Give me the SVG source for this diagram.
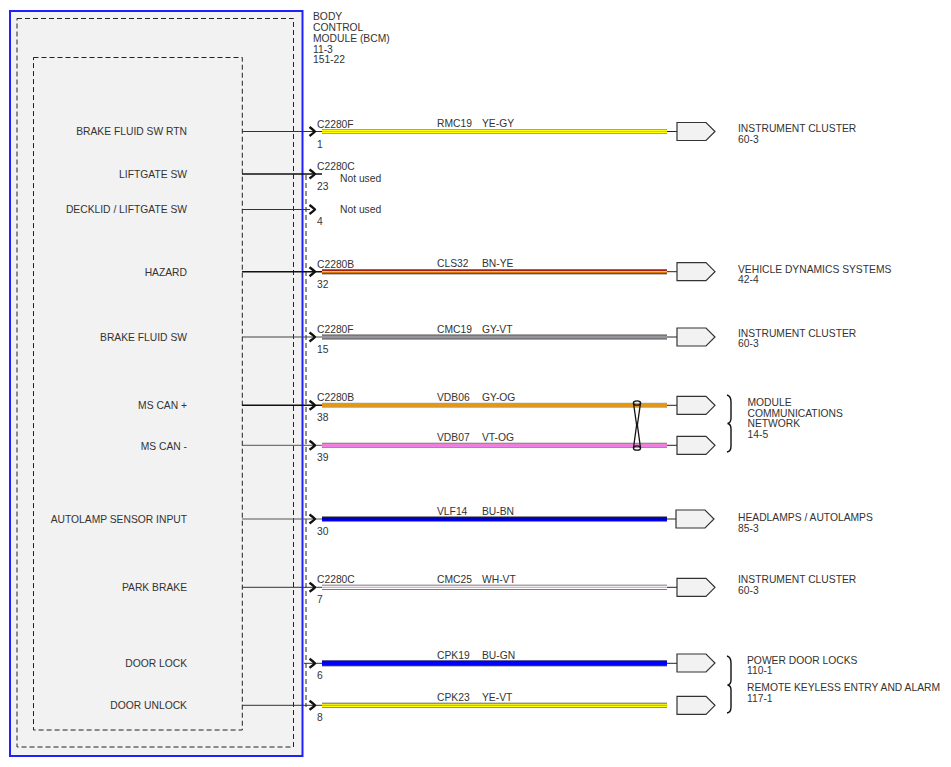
<svg xmlns="http://www.w3.org/2000/svg" width="951" height="767" viewBox="0 0 951 767">
<style>
text{font-family:"Liberation Sans",Arial,sans-serif;font-size:10.3px;fill:#333}
.r{text-anchor:end}
.dash{fill:none;stroke:#222;stroke-width:1;stroke-dasharray:5,3}
.chev{fill:none;stroke:#111;stroke-width:2.4;stroke-linejoin:round}
.stub{stroke:#222;stroke-width:1}
.dest{fill:#f2f2f2;stroke:#333;stroke-width:1.2}
.brace{fill:none;stroke:#111;stroke-width:1.4}
</style>
<rect width="951" height="767" fill="#ffffff"/>
<g id="bcm">
<rect x="10" y="11" width="292.5" height="745" fill="#f2f2f2" stroke="#2020ff" stroke-width="2"/>
<rect x="17" y="18.5" width="276.5" height="728.5" class="dash"/>
<rect x="33.5" y="57.5" width="208.8" height="672.5" class="dash"/>
<line x1="306" y1="175" x2="306" y2="707" class="dash" stroke-dasharray="4,3"/>
<text x="313" y="20">BODY</text>
<text x="313" y="30.8">CONTROL</text>
<text x="313" y="41.6">MODULE (BCM)</text>
<text x="313" y="52.6">11-3</text>
<text x="313" y="63.4">151-22</text>
<text class="r" x="187" y="135">BRAKE FLUID SW RTN</text>
<text class="r" x="187" y="177.5">LIFTGATE SW</text>
<text class="r" x="187" y="213">DECKLID / LIFTGATE SW</text>
<text class="r" x="187" y="275.5">HAZARD</text>
<text class="r" x="187" y="340.5">BRAKE FLUID SW</text>
<text class="r" x="187" y="409">MS CAN +</text>
<text class="r" x="187" y="449.5">MS CAN -</text>
<text class="r" x="187" y="523">AUTOLAMP SENSOR INPUT</text>
<text class="r" x="187" y="591">PARK BRAKE</text>
<text class="r" x="187" y="666.5">DOOR LOCK</text>
<text class="r" x="187" y="709">DOOR UNLOCK</text>
</g>
<g id="pins">
<line x1="242" y1="131.5" x2="322" y2="131.5" stroke="#333" stroke-width="1"/>
<line x1="242" y1="174" x2="322" y2="174" stroke="#111" stroke-width="1.6"/>
<line x1="242" y1="209.5" x2="310" y2="209.5" stroke="#333" stroke-width="1"/>
<line x1="242" y1="271.7" x2="322" y2="271.7" stroke="#111" stroke-width="1.5"/>
<line x1="242" y1="337" x2="322" y2="337" stroke="#444" stroke-width="1"/>
<line x1="242" y1="405.3" x2="322" y2="405.3" stroke="#111" stroke-width="1.5"/>
<line x1="242" y1="445.3" x2="322" y2="445.3" stroke="#555" stroke-width="1"/>
<line x1="242" y1="519" x2="322" y2="519" stroke="#555" stroke-width="1"/>
<line x1="242" y1="587.3" x2="322" y2="587.3" stroke="#333" stroke-width="1"/>
<line x1="304" y1="663.3" x2="322" y2="663.3" stroke="#333" stroke-width="1"/>
<line x1="242" y1="705.3" x2="322" y2="705.3" stroke="#333" stroke-width="1"/>
<path class="chev" d="M309.5,127 Q313,129.5 315,131.5 Q313,133.5 309.5,136"/>
<path class="chev" d="M309.5,169.5 Q313,172 315,174 Q313,176 309.5,178.5"/>
<path class="chev" d="M309.5,205 Q313,207.5 315,209.5 Q313,211.5 309.5,214"/>
<path class="chev" d="M309.5,267.2 Q313,269.7 315,271.7 Q313,273.7 309.5,276.2"/>
<path class="chev" d="M309.5,332.5 Q313,335 315,337 Q313,339 309.5,341.5"/>
<path class="chev" d="M309.5,400.8 Q313,403.3 315,405.3 Q313,407.3 309.5,409.8"/>
<path class="chev" d="M309.5,440.8 Q313,443.3 315,445.3 Q313,447.3 309.5,449.8"/>
<path class="chev" d="M309.5,514.5 Q313,517 315,519 Q313,521 309.5,523.5"/>
<path class="chev" d="M309.5,582.8 Q313,585.3 315,587.3 Q313,589.3 309.5,591.8"/>
<path class="chev" d="M309.5,658.8 Q313,661.3 315,663.3 Q313,665.3 309.5,667.8"/>
<path class="chev" d="M309.5,700.8 Q313,703.3 315,705.3 Q313,707.3 309.5,709.8"/>
<text x="317" y="128">C2280F</text><text x="317" y="148">1</text>
<text x="317" y="169.5">C2280C</text><text x="317" y="190">23</text>
<text x="340" y="181.5">Not used</text>
<text x="317" y="225">4</text>
<text x="340" y="212.5">Not used</text>
<text x="317" y="267.5">C2280B</text><text x="317" y="288">32</text>
<text x="317" y="332.5">C2280F</text><text x="317" y="353">15</text>
<text x="317" y="400.5">C2280B</text><text x="317" y="421">38</text>
<text x="317" y="461">39</text>
<text x="317" y="535">30</text>
<text x="317" y="583">C2280C</text><text x="317" y="603">7</text>
<text x="317" y="679">6</text>
<text x="317" y="721">8</text>
</g>
<g id="connectors">
<g id="w-rmc19">
<line x1="322" y1="131.5" x2="667" y2="131.5" stroke="#8c8c8c" stroke-width="5"/>
<line x1="322" y1="131.5" x2="667" y2="131.5" stroke="#ffff00" stroke-width="3.6"/>
<line x1="322" y1="131.5" x2="667" y2="131.5" stroke="#b4b49a" stroke-width="0.8"/>
</g>
<g id="w-cls32">
<line x1="322" y1="271.7" x2="667" y2="271.7" stroke="#808080" stroke-width="5.5"/>
<line x1="322" y1="271.7" x2="667" y2="271.7" stroke="#a82010" stroke-width="4"/>
<line x1="322" y1="271.7" x2="667" y2="271.7" stroke="#ffd000" stroke-width="1.4"/>
</g>
<g id="w-cmc19">
<line x1="322" y1="337" x2="667" y2="337" stroke="#505050" stroke-width="5"/>
<line x1="322" y1="337" x2="667" y2="337" stroke="#858585" stroke-width="3.5"/>
<line x1="322" y1="337" x2="667" y2="337" stroke="#b8a8c0" stroke-width="0.8"/>
</g>
<g id="w-vdb06">
<line x1="322" y1="405.3" x2="667" y2="405.3" stroke="#a0a0a0" stroke-width="5"/>
<line x1="322" y1="405.3" x2="667" y2="405.3" stroke="#e8960a" stroke-width="3"/>
</g>
<g id="w-vdb07">
<line x1="322" y1="445.3" x2="667" y2="445.3" stroke="#707070" stroke-width="5"/>
<line x1="322" y1="445.3" x2="667" y2="445.3" stroke="#f080f0" stroke-width="3.6"/>
<line x1="322" y1="445.3" x2="667" y2="445.3" stroke="#f09070" stroke-width="1.2"/>
</g>
<g id="w-vlf14">
<line x1="322" y1="519" x2="667" y2="519" stroke="#202020" stroke-width="5"/>
<line x1="322" y1="519" x2="667" y2="519" stroke="#0000ff" stroke-width="3.8"/>
<line x1="322" y1="519" x2="667" y2="519" stroke="#000060" stroke-width="1"/>
</g>
<g id="w-cmc25">
<line x1="322" y1="587.3" x2="667" y2="587.3" stroke="#505050" stroke-width="5"/>
<line x1="322" y1="587.3" x2="667" y2="587.3" stroke="#ffffff" stroke-width="3.6"/>
<line x1="322" y1="587.3" x2="667" y2="587.3" stroke="#c080c0" stroke-width="0.8"/>
</g>
<g id="w-cpk19">
<line x1="322" y1="663.3" x2="667" y2="663.3" stroke="#808080" stroke-width="6.5"/>
<line x1="322" y1="663.3" x2="667" y2="663.3" stroke="#0000ff" stroke-width="5"/>
</g>
<g id="w-cpk23">
<line x1="322" y1="705.3" x2="667" y2="705.3" stroke="#404040" stroke-width="5"/>
<line x1="322" y1="705.3" x2="667" y2="705.3" stroke="#ffff00" stroke-width="3.8"/>
<line x1="322" y1="705.3" x2="667" y2="705.3" stroke="#909090" stroke-width="0.8"/>
</g>
<line class="stub" x1="667" y1="131.5" x2="677" y2="131.5"/>
<line class="stub" x1="667" y1="271.7" x2="677" y2="271.7"/>
<line class="stub" x1="667" y1="337" x2="677" y2="337"/>
<line class="stub" x1="667" y1="405.3" x2="677" y2="405.3"/>
<line class="stub" x1="667" y1="445.3" x2="677" y2="445.3"/>
<line class="stub" x1="667" y1="519" x2="677" y2="519"/>
<line class="stub" x1="667" y1="587.3" x2="677" y2="587.3"/>
<line class="stub" x1="667" y1="663.3" x2="677" y2="663.3"/>
<g id="twist" fill="none" stroke="#111" stroke-width="1.3">
<path d="M633.5,403 L636.6,425 L633.5,448 M640.5,403 L637.4,425 L640.5,448"/>
<ellipse cx="637" cy="403" rx="3.6" ry="2.2"/>
<ellipse cx="637" cy="448" rx="3.6" ry="2.2"/>
</g>
<text x="437" y="127">RMC19</text><text x="482" y="127">YE-GY</text>
<text x="437" y="267">CLS32</text><text x="482" y="267">BN-YE</text>
<text x="437" y="332.5">CMC19</text><text x="482" y="332.5">GY-VT</text>
<text x="437" y="400.5">VDB06</text><text x="482" y="400.5">GY-OG</text>
<text x="437" y="440.5">VDB07</text><text x="482" y="440.5">VT-OG</text>
<text x="437" y="514.5">VLF14</text><text x="482" y="514.5">BU-BN</text>
<text x="437" y="582.5">CMC25</text><text x="482" y="582.5">WH-VT</text>
<text x="437" y="658.5">CPK19</text><text x="482" y="658.5">BU-GN</text>
<text x="437" y="700.5">CPK23</text><text x="482" y="700.5">YE-VT</text>
</g>
<g id="instrument-cluster-1">
<path class="dest" d="M677,122.5 H706 L715,131.5 L706,140.5 H677 Z"/>
<text x="738" y="132">INSTRUMENT CLUSTER</text>
<text x="738" y="142.5">60-3</text>
</g>
<g id="vehicle-dynamics">
<path class="dest" d="M677,262.7 H706 L715,271.7 L706,280.7 H677 Z"/>
<text x="738" y="272.5">VEHICLE DYNAMICS SYSTEMS</text>
<text x="738" y="283">42-4</text>
</g>
<g id="instrument-cluster-2">
<path class="dest" d="M677,328 H706 L715,337 L706,346 H677 Z"/>
<text x="738" y="336.5">INSTRUMENT CLUSTER</text>
<text x="738" y="347">60-3</text>
</g>
<g id="module-comm-network">
<path class="dest" d="M677,396.3 H706 L715,405.3 L706,414.3 H677 Z"/>
<path class="dest" d="M677,436.3 H706 L715,445.3 L706,454.3 H677 Z"/>
<path class="brace" d="M727,395 Q731,396 731,402 L731,418 Q731,423 727.5,423.5 Q731,424 731,429 L731,446 Q731,451.5 727,452"/>
<text x="747.5" y="406.2">MODULE</text>
<text x="747.5" y="416.8">COMMUNICATIONS</text>
<text x="747.5" y="427.4">NETWORK</text>
<text x="747.5" y="438">14-5</text>
</g>
<g id="headlamps">
<path class="dest" d="M676,510 H705 L714,519 L705,528 H676 Z"/>
<text x="738" y="521">HEADLAMPS / AUTOLAMPS</text>
<text x="738" y="531.5">85-3</text>
</g>
<g id="instrument-cluster-3">
<path class="dest" d="M677,578.3 H706 L715,587.3 L706,596.3 H677 Z"/>
<text x="738" y="583.3">INSTRUMENT CLUSTER</text>
<text x="738" y="593.8">60-3</text>
</g>
<g id="door-locks">
<path class="dest" d="M677,654 H706 L715,663 L706,672 H677 Z"/>
<path class="dest" d="M677,696.3 H706 L715,705.3 L706,714.3 H677 Z"/>
<path class="brace" d="M727,656 Q731,657 731,663 L731,680 Q731,684.5 727.5,685 Q731,685.5 731,690 L731,707 Q731,712.5 727,713"/>
<text x="747" y="663.5">POWER DOOR LOCKS</text>
<text x="747" y="674">110-1</text>
<text x="747" y="691">REMOTE KEYLESS ENTRY AND ALARM</text>
<text x="747" y="701.5">117-1</text>
</g>
</svg>
